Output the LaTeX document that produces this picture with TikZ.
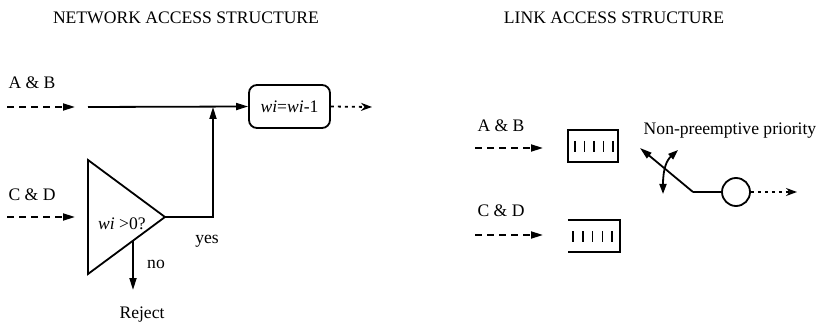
\documentclass[tikz,border=0pt]{standalone}
\usepackage{fontspec}
\setmainfont{Liberation Serif}
\usetikzlibrary{arrows.meta}
\begin{document}
\begin{tikzpicture}[x=1pt,y=-1pt,
  lbl/.style={font=\fontsize{17.6}{20}\selectfont, inner sep=0pt},
  ln/.style={line width=1.8pt},
  tip/.tip={Triangle[length=12pt,width=7pt]},
  arr/.style={ln,-tip},
  dsh/.style={arr, dash pattern=on 7pt off 5pt},
  dtd/.style={ln, dash pattern=on 3pt off 4pt, -{Stealth[length=11pt,width=8pt]}},
  tick/.style={line width=1.5pt},
]
\useasboundingbox (0,0) rectangle (821,323);

% ---------- titles ----------
\node[lbl] (t1) at (186,18) {NETWORK ACCESS STRUCTURE};
\node[lbl] (t2) at (614,18) {LINK ACCESS STRUCTURE};

% ---------- network access structure ----------
\node[lbl] (ab1) at (32,83) {A \& B};
\node[lbl] (cd1) at (32,195) {C \& D};
\coordinate (abs) at (7,107);
\coordinate (abe) at (75,107);
\coordinate (abl) at (88,107);
\coordinate (cds) at (7,217);
\coordinate (cde) at (75,217);
\draw[dsh] (abs) -- (abe);
\draw[dsh] (cds) -- (cde);

\node[draw, ln, rounded corners=8pt, minimum width=81pt, minimum height=43pt, lbl]
  (upd) at (289.5,106.5) {\textit{wi}=\textit{wi}-1};
\coordinate (jn) at (213,107);
\draw[arr] (abl) -- (upd.west);
\coordinate (updout) at (372,107);
\draw[dtd] (upd.east) -- (updout);

% triangle comparator
\coordinate (ta) at (88,160);
\coordinate (tb) at (88,274);
\coordinate (tt) at (165,217);
\draw[ln, line join=miter] (ta) -- (tb) -- (tt) -- cycle;
\node[lbl] (cmp) at (122,224) {\textit{wi} >0?};
\draw[arr] (tt) -| (jn);

\coordinate (nos) at (133,240);
\node[lbl] (rej) at (142,315) {Reject};
\coordinate (noe) at (133,290);
\draw[arr] (nos) -- (noe);
\node[lbl] (no) at (156,264) {no};
\node[lbl] (yes) at (207,241) {yes};

% ---------- link access structure ----------
\node[lbl] (ab2) at (501,126) {A \& B};
\node[lbl] (cd2) at (501,211) {C \& D};
\coordinate (ab2s) at (475,148);
\coordinate (ab2e) at (543,148);
\coordinate (cd2s) at (475,235);
\coordinate (cd2e) at (543,235);
\draw[dsh] (ab2s) -- (ab2e);
\draw[dsh] (cd2s) -- (cd2e);

\node[draw, ln, minimum width=50pt, minimum height=32pt, inner sep=0pt] (q1) at (593,146) {};
\foreach \i in {0,...,4}
  \draw[tick] (575+\i*9.5,141) -- ++(0,11);

\node[minimum width=52pt, minimum height=32pt, inner sep=0pt] (q2) at (594,236) {};
\draw[ln] (q2.north west) -- (q2.north east) -- (q2.south east) -- (q2.south west);
\foreach \i in {0,...,4}
  \draw[tick] (573+\i*9.8,231) -- ++(0,11);

\node[lbl] (npp) at (730,131) {Non-preemptive priority};
\coordinate (sw) at (693,192);
\coordinate (swtip) at (640,148);
\node[circle, draw, ln, minimum size=28pt, inner sep=0pt] (srv) at (736,192) {};
\draw[arr] (sw) -- (swtip);
\draw[ln] (sw) -- (srv.west);
\coordinate (srvout) at (797,192);
\draw[dtd] (srv.east) -- (srvout);

\coordinate (cvb) at (663,194);
\coordinate (cvt) at (678,150);
\draw[ln, {Triangle[length=10pt,width=7pt]}-{Triangle[length=10pt,width=7pt]}]
  (cvb) .. controls (663,168) and (667,160) .. (cvt);
\end{tikzpicture}
\end{document}
